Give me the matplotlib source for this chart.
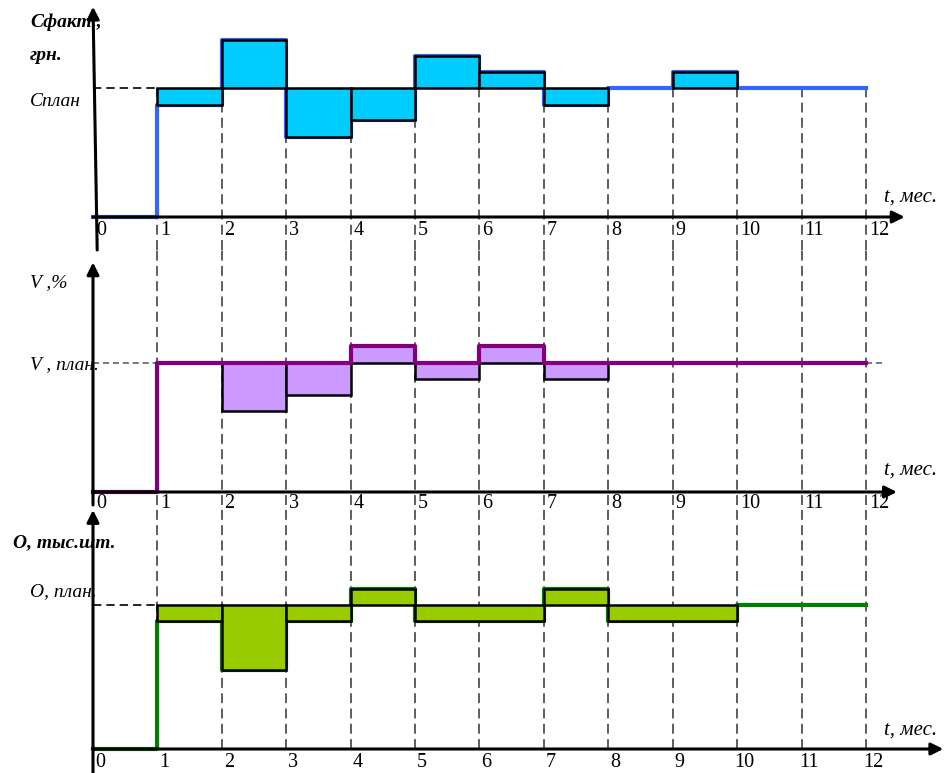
import numpy as np
import matplotlib
matplotlib.use("Agg")
import matplotlib.pyplot as plt

plt.rcParams['font.family'] = ['Liberation Serif', 'DejaVu Serif']

# Monthly values relative to plan (plan = 1.0), one value per month interval
months = np.arange(13)
tickLabels = [str(m) for m in months]
PLAN = 1.0
costFact = np.array([0, 0.87, 1.375, 0.62, 0.75, 1.25, 1.125, 0.87, 1.0, 1.125, 1.0, 1.0])
volumeFact = np.array([0, 1.0, 0.63, 0.75, 1.13, 0.875, 1.13, 0.875, 1.0, 1.0, 1.0, 1.0])
outputFact = np.array([0, 0.89, 0.55, 0.89, 1.11, 0.89, 0.89, 1.11, 0.89, 0.89, 1.0, 1.0])

W, H = 945, 773
X0 = 93                      # pixel of month 0
PXM = (866 - 93) / 12.0      # pixels per month

fig = plt.figure(figsize=(W / 100, H / 100), dpi=100)


def fx(px):
    return px / W


def fy(py):
    return 1 - py / H


def make_panel(topPx, bottomPx, basePx, planPx):
    ''' Axes covering one horizontal band of the figure, y in plan units '''
    ax = fig.add_axes([0, fy(bottomPx), 1, (bottomPx - topPx) / H])
    unit = float(basePx - planPx)
    ax.set_xlim(-X0 / PXM, (W - X0) / PXM)
    ax.set_ylim((basePx - bottomPx) / unit, (basePx - topPx) / unit)
    ax.axis('off')
    return ax


def deviation_bars(ax, fact, fill):
    ''' One outlined box per run of months that differ from plan '''
    start = 0
    for i in range(1, len(fact) + 1):
        if i == len(fact) or fact[i] != fact[start]:
            val = fact[start]
            if val != 0 and val != PLAN:
                ax.bar(start, val - PLAN, width=i - start, bottom=PLAN, align='edge',
                       color=fill, edgecolor='black', linewidth=1.8, zorder=3)
            start = i


def arrow(ax, start, tip, head=18):
    ax.annotate('', xy=tip, xytext=start, annotation_clip=False,
                arrowprops=dict(arrowstyle='-|>', color='black', lw=2.2,
                                mutation_scale=head, shrinkA=0, shrinkB=0),
                zorder=6)


def month_labels(ax, dx, dy, ha):
    for m, lab in zip(months, tickLabels):
        ax.annotate(lab, xy=(m, 0), xytext=(dx, dy), textcoords='offset points',
                    ha=ha, va='center', fontsize=14.5, annotation_clip=False)


dashStyle = (0, (6.5, 3.5))

# ---- panel 1: cost ----
ax1 = make_panel(0, 250, 217, 88)
lo1 = ax1.get_ylim()[0]
ax1.vlines(months[1:], lo1, PLAN, colors='#333333', linestyles=dashStyle, lw=1.1, zorder=1)
ax1.hlines(PLAN, 0, 1, colors='black', linestyles=(0, (5, 3)), lw=1.2, zorder=1)
ax1.step(months, np.append(costFact, costFact[-1]), where='post', color='#3366FF', lw=3, zorder=2)
deviation_bars(ax1, costFact, '#00CCFF')
arrow(ax1, (0.065, lo1), (0, 1.63))
arrow(ax1, (0, 0), (12.6, 0))
month_labels(ax1, 2, -10, 'left')

# ---- panel 2: volume ----
ax2 = make_panel(250, 505, 492, 363)
lo2, hi2 = ax2.get_ylim()
ax2.vlines(months[1:], lo2, hi2, colors='#333333', linestyles=dashStyle, lw=1.1, zorder=1)
ax2.hlines(PLAN, 0, 1, colors='#555555', linestyles=(0, (4, 2.5)), lw=1.1, zorder=1)
ax2.hlines(PLAN, 12, 12.25, colors='#555555', linestyles=(0, (4, 2.5)), lw=1.1, zorder=1)
volumeLine = np.where(volumeFact > 0, np.maximum(volumeFact, PLAN), 0)
deviation_bars(ax2, volumeFact, '#CC99FF')
ax2.step(months, np.append(volumeLine, volumeLine[-1]), where='post', color='#800080', lw=3, zorder=4)
arrow(ax2, (0, lo2), (0, 1.78))
arrow(ax2, (0, 0), (12.48, 0))
month_labels(ax2, 2, -8, 'left')

# ---- panel 3: output ----
ax3 = make_panel(505, 773, 749, 605)
lo3, hi3 = ax3.get_ylim()
ax3.vlines(months[1:], 0, hi3, colors='#333333', linestyles=dashStyle, lw=1.1, zorder=1)
ax3.hlines(PLAN, 0, 1, colors='black', linestyles=(0, (5, 3)), lw=1.2, zorder=1)
ax3.step(months, np.append(outputFact, outputFact[-1]), where='post', color='#008000', lw=3, zorder=2)
deviation_bars(ax3, outputFact, '#99CC00')
arrow(ax3, (0, lo3), (0, 1.66))
arrow(ax3, (0, 0), (13.2, 0))
month_labels(ax3, 5, -10, 'center')

# ---- axis captions ----
it = dict(fontsize=14, style='italic', va='center', ha='left')
fig.text(fx(30), fy(22), 'Сфакт.,', weight='bold', **it)
fig.text(fx(30), fy(56), 'грн.', weight='bold', **it)
fig.text(fx(30), fy(102), 'Сплан', **it)
fig.text(fx(30), fy(283), 'V ,%', **it)
fig.text(fx(30), fy(365), 'V , план.', **it)
fig.text(fx(13), fy(543), 'O, тыс.шт.', weight='bold', **it)
fig.text(fx(30), fy(592), 'O, план.', **it)
for yPx in (197, 470, 730):
    fig.text(fx(884), fy(yPx), 't, мес.', fontsize=15, style='italic', va='center', ha='left')

fig.savefig('out.png', dpi=100)
